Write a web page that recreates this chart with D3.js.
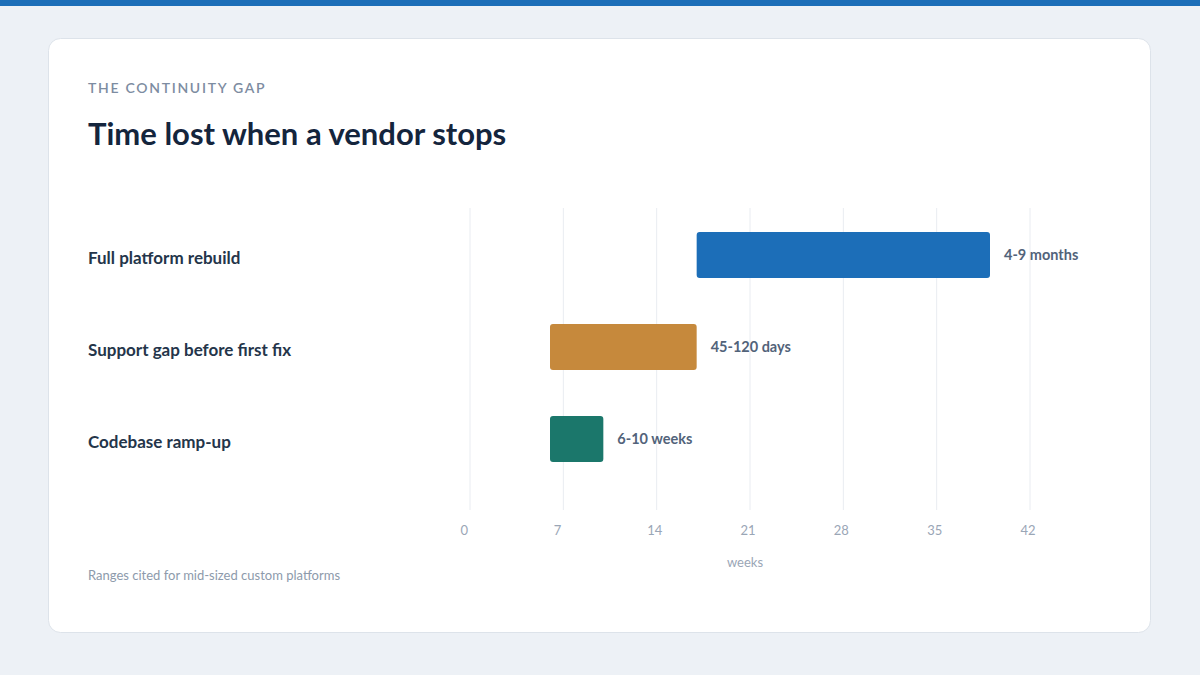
<!DOCTYPE html>
<html>
<head>
<meta charset="utf-8">
<script src="https://cdn.jsdelivr.net/npm/d3@7"></script>
<style>
  html, body { margin: 0; padding: 0; background: #edf1f6; }
  svg { display: block; font-family: Lato, "Noto Sans", sans-serif; }
</style>
</head>
<body>
<div id="container"></div>
<script>
/* CONSTANTS AND GLOBALS */
const width = 1200,
  height = 675;

// DATA (weeks)
const categories = ["Full platform rebuild", "Support gap before first fix", "Codebase ramp-up"];
const startWeeks = [17, 6, 6];
const endWeeks = [39, 17, 10];
const rangeLabels = ["4-9 months", "45-120 days", "6-10 weeks"];
const barColors = ["#1c6eb8", "#c6893c", "#1b776b"];
const tickValues = [0, 7, 14, 21, 28, 35, 42];

const rows = categories.map((c, i) => ({
  name: c, start: startWeeks[i], end: endWeeks[i], label: rangeLabels[i], color: barColors[i]
}));

const svg = d3.select("#container").append("svg")
  .attr("width", width)
  .attr("height", height);

// page background + top stripe
svg.append("rect").attr("width", width).attr("height", height).attr("fill", "#edf1f6");
svg.append("rect").attr("width", width).attr("height", 6).attr("fill", "#1c6eb8");

// card
svg.append("rect")
  .attr("x", 48.5).attr("y", 38.5)
  .attr("width", 1102).attr("height", 594)
  .attr("rx", 12)
  .attr("fill", "#ffffff")
  .attr("stroke", "#dde3ea");

// headings
svg.append("text")
  .attr("x", 88).attr("y", 93)
  .attr("fill", "#7d8ca1")
  .attr("font-size", 14)
  .attr("font-weight", 600)
  .attr("letter-spacing", "1.7px")
  .text("THE CONTINUITY GAP");

svg.append("text")
  .attr("x", 88).attr("y", 145)
  .attr("fill", "#14253d")
  .attr("font-size", 31)
  .attr("font-weight", 700)
  .text("Time lost when a vendor stops");

// SCALES
const x = d3.scaleLinear().domain([0, 42]).range([470, 1030]);
const y = d3.scaleBand()
  .domain(categories)
  .range([209, 485])
  .paddingInner(0.5)
  .paddingOuter(0.25);

// gridlines
svg.append("g")
  .selectAll("line.grid")
  .data(tickValues)
  .join("line")
  .attr("class", "grid")
  .attr("x1", d => x(d)).attr("x2", d => x(d))
  .attr("y1", 208).attr("y2", 510)
  .attr("stroke", "#e9ecf1")
  .attr("stroke-width", 1);

// x axis tick labels
const xAxis = svg.append("g")
  .attr("transform", "translate(0,510)")
  .call(d3.axisBottom(x).tickValues(tickValues).tickSize(0).tickPadding(16));
xAxis.select(".domain").remove();
xAxis.selectAll("text")
  .attr("font-family", "Lato, sans-serif")
  .attr("font-size", 13)
  .attr("fill", "#9aa6b6")
  .attr("text-anchor", "start")
  .attr("dx", -10);

svg.append("text")
  .attr("x", 745).attr("y", 567)
  .attr("text-anchor", "middle")
  .attr("fill", "#9aa6b6")
  .attr("font-size", 13)
  .text("weeks");

// category labels
svg.selectAll("text.cat")
  .data(rows)
  .join("text")
  .attr("class", "cat")
  .attr("x", 88)
  .attr("y", d => y(d.name) + y.bandwidth() / 2 + 5)
  .attr("dominant-baseline", "middle")
  .attr("fill", "#24354a")
  .attr("font-size", 17)
  .attr("font-weight", 700)
  .text(d => d.name);

// bars
svg.selectAll("rect.bar")
  .data(rows)
  .join("rect")
  .attr("class", "bar")
  .attr("x", d => x(d.start))
  .attr("y", d => y(d.name))
  .attr("width", d => x(d.end) - x(d.start))
  .attr("height", y.bandwidth())
  .attr("rx", 3)
  .attr("fill", d => d.color);

// value labels
svg.selectAll("text.val")
  .data(rows)
  .join("text")
  .attr("class", "val")
  .attr("x", d => x(d.end) + 14)
  .attr("y", d => y(d.name) + y.bandwidth() / 2 + 1)
  .attr("dominant-baseline", "middle")
  .attr("fill", "#52637a")
  .attr("font-size", 14.5)
  .attr("font-weight", 700)
  .text(d => d.label);

// footnote
svg.append("text")
  .attr("x", 88).attr("y", 580)
  .attr("fill", "#8d9aab")
  .attr("font-size", 13)
  .text("Ranges cited for mid-sized custom platforms");
</script>
</body>
</html>
